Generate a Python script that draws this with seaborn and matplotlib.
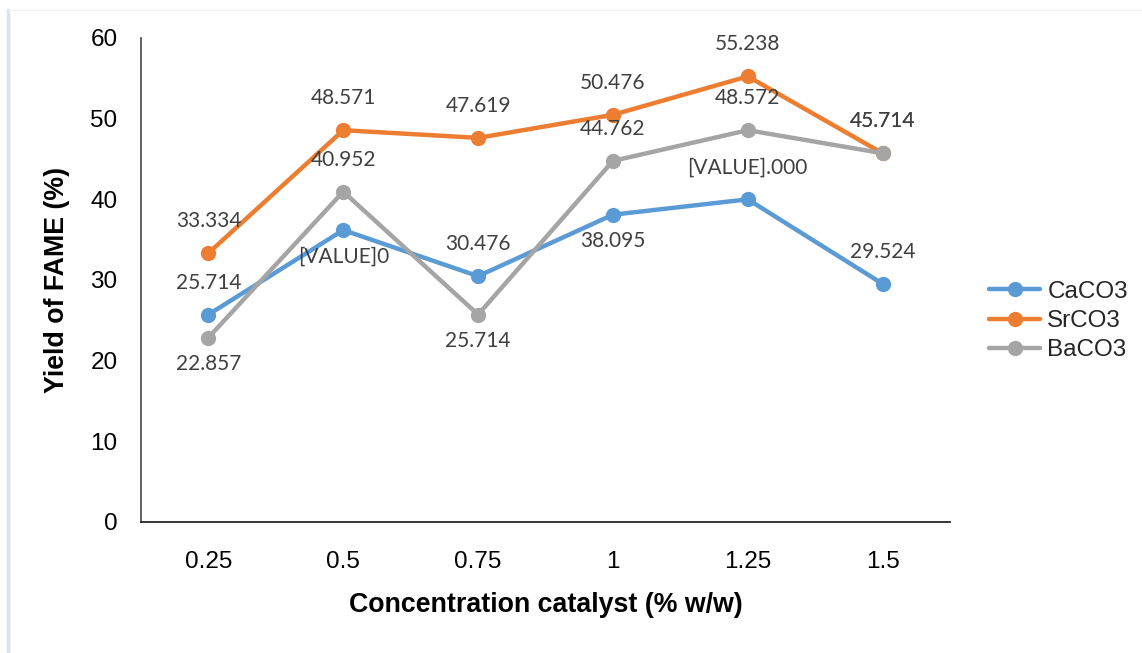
import matplotlib
matplotlib.use("Agg")
import matplotlib.pyplot as plt
from matplotlib.lines import Line2D
import seaborn as sns
import pandas as pd

# ---- data ----
concentrations = ["0.25", "0.5", "0.75", "1", "1.25", "1.5"]
caco3 = [25.714, 36.190, 30.476, 38.095, 40.000, 29.524]
srco3 = [33.334, 48.571, 47.619, 50.476, 55.238, 45.714]
baco3 = [22.857, 40.952, 25.714, 44.762, 48.572, 45.714]
caco3_labels = ["25.714", "[VALUE]0", "30.476", "38.095", "[VALUE].000", "29.524"]
srco3_labels = ["33.334", "48.571", "47.619", "50.476", "55.238", "45.714"]
baco3_labels = ["22.857", "40.952", "25.714", "44.762", "48.572", "45.714"]
series_names = ["CaCO3", "SrCO3", "BaCO3"]
y_ticks = [0, 10, 20, 30, 40, 50, 60]

# label placement (style, not data): +1 above, -1 below
caco3_side = [1, -1, 1, -1, 1, 1]
srco3_side = [1, 1, 1, 1, 1, 1]
baco3_side = [-1, 1, -1, 1, 1, 1]

colors = ["#5B9BD5", "#ED7D31", "#A5A5A5"]

df = pd.DataFrame({
    "conc": concentrations * 3,
    "yield": caco3 + srco3 + baco3,
    "series": [s for s in series_names for _ in concentrations],
})

sns.set_theme(style="white")
plt.rcParams["font.family"] = ["Liberation Sans", "DejaVu Sans"]

fig = plt.figure(figsize=(11.42, 6.53), dpi=100)
ax = fig.add_axes([141/1142, 1-522/653, (950-141)/1142, (522-38)/653])

sns.lineplot(data=df, x="conc", y="yield", hue="series", hue_order=series_names,
             palette=colors, marker="o", markersize=11, markeredgewidth=0,
             linewidth=3.2, sort=False, ax=ax, legend=False)

ax.set_xlim(-0.5, len(concentrations) - 0.5)
ax.set_ylim(0, 60)
ax.set_yticks(y_ticks)
ax.tick_params(axis="both", length=0, labelsize=17.5, colors="black")
ax.tick_params(axis="y", pad=17)
ax.tick_params(axis="x", pad=21)

for sp in ["top", "right"]:
    ax.spines[sp].set_visible(False)
ax.spines["left"].set_color("#595959")
ax.spines["bottom"].set_color("#262626")
ax.spines["left"].set_linewidth(1.3)
ax.spines["bottom"].set_linewidth(1.3)

ax.set_xlabel("Concentration catalyst (% w/w)", fontsize=19.3, fontweight="bold", color="black")
ax.set_ylabel("Yield of FAME (%)", fontsize=19.3, fontweight="bold", color="black")
ax.xaxis.set_label_coords(0.5, -0.145)
ax.yaxis.set_label_coords(-0.088, 0.5)

for vals, labs, sides in [(caco3, caco3_labels, caco3_side),
                          (srco3, srco3_labels, srco3_side),
                          (baco3, baco3_labels, baco3_side)]:
    for c, v, t, s in zip(concentrations, vals, labs, sides):
        off = 23 if s > 0 else -19
        ax.annotate(t, (c, v), xytext=(0, off), textcoords="offset points",
                    ha="center", va="center", fontsize=15, color="#404040",
                    family=["Lato", "DejaVu Sans"])

handles = [Line2D([0], [0], color=col, lw=3.2, marker="o", markersize=11,
                  markeredgewidth=0) for col in colors]
fig.legend(handles, series_names, loc="center left",
           bbox_to_anchor=(989/1142, 1-321/653), frameon=False, fontsize=17.5,
           handlelength=2.1, labelspacing=0.3, handletextpad=0.3,
           borderaxespad=0, borderpad=0)

fig.add_artist(Line2D([8/1142, 8/1142], [0, 1-10/653], color="#D5E3F3", lw=2.5,
                      transform=fig.transFigure))
fig.add_artist(Line2D([8/1142, 1], [1-10/653, 1-10/653], color="#F2F2F2", lw=1,
                      transform=fig.transFigure))

fig.savefig("out.png", dpi=100)
